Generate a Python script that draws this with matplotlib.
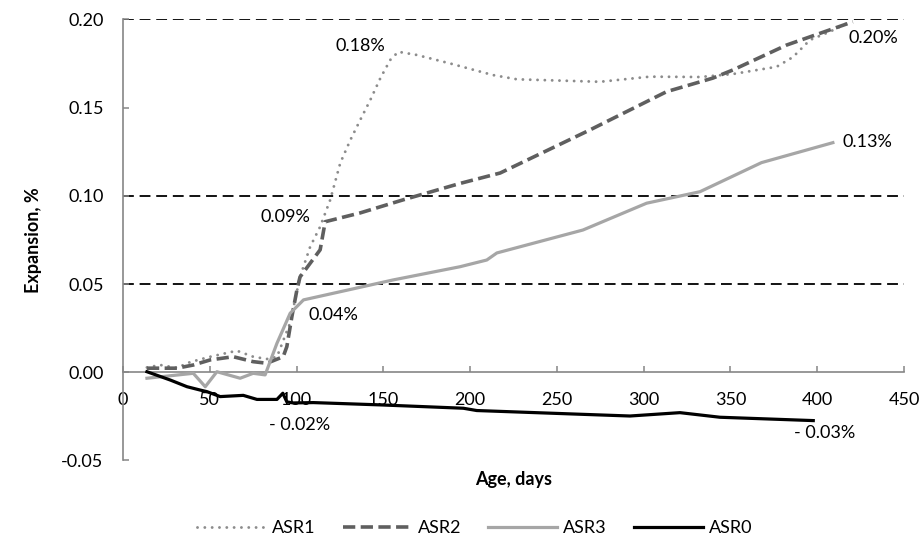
import numpy as np
import matplotlib
matplotlib.use("Agg")
import matplotlib.pyplot as plt
from matplotlib.ticker import FormatStrFormatter, MultipleLocator

plt.rcParams['font.family'] = ['Lato', 'DejaVu Sans']
plt.rcParams['axes.unicode_minus'] = False

# ASR1 (dotted)
asr1_days = [13.8, 21.5, 31, 38.8, 50.3, 65.6, 75, 82.9, 88.7, 96.3, 102, 107.8, 113.6,
             119.4, 125.2, 131, 136.7, 142.5, 148.3, 154, 158.6, 169.3, 188.4, 213.2,
             227, 274.8, 303.6, 332.4, 351.4, 376.6, 386, 395.8, 407.3, 418.8]
asr1_vals = [0.0027, 0.0041, 0.0025, 0.0058, 0.0088, 0.0122, 0.0088, 0.0075, 0.0087, 0.028,
             0.054, 0.071, 0.0825, 0.0977, 0.1186, 0.1316, 0.143, 0.1543, 0.1667, 0.177,
             0.1816, 0.1798, 0.175, 0.1684, 0.166, 0.1646, 0.1675, 0.1673, 0.169, 0.1731,
             0.1786, 0.1883, 0.193, 0.1986]

# ASR2 (dashed)
asr2_days = [13.8, 31.1, 40.5, 50.3, 63.5, 75, 82.9, 92.3, 94.4, 97.3, 100.2, 102, 113.6,
             116.5, 136.7, 161.4, 194.2, 217.3, 269, 313.2, 339.9, 351.4, 382.3, 420.5]
asr2_vals = [0.0023, 0.0023, 0.0041, 0.007, 0.0088, 0.006, 0.0051, 0.0088, 0.0145, 0.0315,
             0.0466, 0.054, 0.0694, 0.0853, 0.0903, 0.0977, 0.107, 0.1129, 0.1373, 0.159,
             0.1667, 0.1713, 0.1854, 0.1986]

# ASR3 (light solid)
asr3_days = [13.8, 40.5, 47.4, 54.1, 67.5, 75, 81.9, 88.7, 96.3, 104, 155.6, 194.2, 209.6,
             215.4, 265, 301.7, 332.4, 367.9, 409]
asr3_vals = [-0.0034, -0.0006, -0.0082, 0.0003, -0.0034, -0.0006, -0.0015, 0.0164, 0.0334,
             0.041, 0.0523, 0.0598, 0.0636, 0.0676, 0.0806, 0.0958, 0.1023, 0.1188, 0.1301]

# ASR0 (black)
asr0_days = [13.8, 27.2, 36.9, 44.5, 48.4, 56, 69.3, 77.2, 88.7, 92.1, 94.4, 98.1, 109.7,
             148.2, 196.1, 203.8, 263.3, 292.1, 320.9, 343.9, 397.7]
asr0_vals = [0.0003, -0.0044, -0.0082, -0.0101, -0.011, -0.0138, -0.0131, -0.0154, -0.0154,
             -0.0119, -0.0168, -0.0174, -0.0172, -0.0185, -0.0204, -0.0217, -0.0238, -0.0248,
             -0.0229, -0.0255, -0.0274]

# data labels
label_text = ['0.18%', '0.09%', '0.20%', '0.13%', '0.04%', '- 0.02%', '- 0.03%']
label_x = [136.6, 93.7, 432.3, 428.9, 121, 102, 404.4]
label_y = [0.185, 0.0882, 0.1894, 0.1307, 0.0325, -0.0297, -0.0342]

grid_levels = [0.05, 0.10, 0.20]

fs = 13
fig = plt.figure(figsize=(9.24, 5.38), dpi=100)
ax = fig.add_axes([0.1331, 0.1441, 0.9784 - 0.1331, 0.9641 - 0.1441])

for g in grid_levels:
    ax.axhline(g, color='black', lw=1.3, dashes=(6, 3.2), zorder=1)

ax.plot(asr1_days, asr1_vals, color='#8c8c8c', lw=2.1, dashes=(0.01, 2.5),
        dash_capstyle='round', label='ASR1', zorder=3)
ax.plot(asr2_days, asr2_vals, color='#5f5f5f', lw=2.6, dashes=(3.4, 1.5),
        label='ASR2', zorder=3)
ax.plot(asr3_days, asr3_vals, color='#a6a6a6', lw=2.3, label='ASR3', zorder=3)
ax.plot(asr0_days, asr0_vals, color='black', lw=2.3, label='ASR0', zorder=4)

for t, x, y in zip(label_text, label_x, label_y):
    ax.text(x, y, t, ha='center', va='center', fontsize=fs, color='black')

ax.set_xlim(0, 450)
ax.set_ylim(-0.05, 0.20)
ax.xaxis.set_major_locator(MultipleLocator(50))
ax.yaxis.set_major_locator(MultipleLocator(0.05))
ax.yaxis.set_major_formatter(FormatStrFormatter('%.2f'))

ax.spines['top'].set_visible(False)
ax.spines['right'].set_visible(False)
ax.spines['bottom'].set_position(('data', 0))
for s in ('left', 'bottom'):
    ax.spines[s].set_color('#868686')
    ax.spines[s].set_linewidth(1.2)
ax.tick_params(axis='both', direction='in', length=4, width=1.1, color='#868686',
               labelsize=fs, labelcolor='black')
ax.tick_params(axis='x', pad=14)
ax.tick_params(axis='y', pad=14)

ax.set_xlabel('Age, days', fontsize=fs, fontweight='bold')
ax.xaxis.set_label_coords(0.5, -0.044)
ax.xaxis.label.set_va('center')
ax.set_ylabel('Expansion, %', fontsize=fs, fontweight='bold')
ax.yaxis.set_label_coords(-0.115, 0.5)
ax.yaxis.label.set_va('center')

fig.legend(loc='center', bbox_to_anchor=(475 / 924, 1 - 528 / 538), ncol=4,
           frameon=False, fontsize=fs, handlelength=3.8, handletextpad=0.35,
           columnspacing=1.5)

fig.savefig('out.png', dpi=100)
